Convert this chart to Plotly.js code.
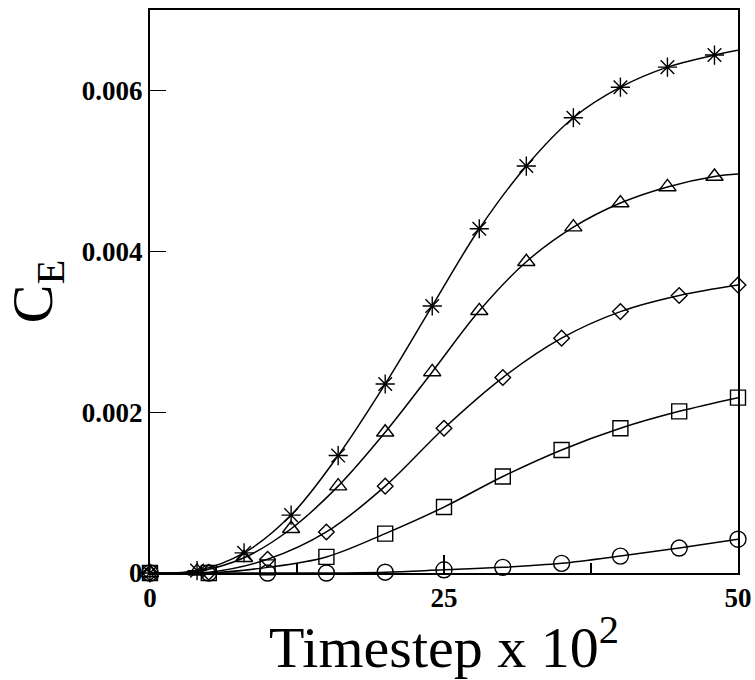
<!DOCTYPE html>
<html>
<head>
<meta charset="utf-8">
<script src="https://cdn.plot.ly/plotly-3.0.1.min.js"></script>
<style>html,body{margin:0;padding:0;background:#fff;}#chart{width:755px;height:680px;}</style>
</head>
<body>
<div id="chart"></div>
<script>
// Series sampled every 400 timesteps (x in units of 10^2)
const xStep4 = [0, 4, 8, 12, 16, 20, 24, 28, 32, 36, 40, 44, 48];
const yStar = [0, 0.00003, 0.00025, 0.00072, 0.00146, 0.00235, 0.00332, 0.00428, 0.00506, 0.00566, 0.00604, 0.00629, 0.00644];
const yTriangle = [0, 0.00002, 0.00019, 0.00055, 0.00108, 0.00175, 0.0025, 0.00326, 0.00387, 0.0043, 0.0046, 0.0048, 0.00493];
// curve end values at x = 50 for the two series above
const xEnd = 50;
const yStarEnd = 0.0065;
const yTriangleEnd = 0.00496;

// Series sampled every 500 timesteps
const xStep5 = [0, 5, 10, 15, 20, 25, 30, 35, 40, 45, 50];
const yDiamond = [0, 0.00001, 0.00017, 0.00051, 0.00108, 0.0018, 0.00243, 0.00292, 0.00325, 0.00345, 0.00358];
const ySquare = [0, 0, 0.00007, 0.0002, 0.00049, 0.00082, 0.0012, 0.00153, 0.0018, 0.00201, 0.00218];
const yCircle = [0, 0, 0, 0, 0.00001, 0.00004, 0.00007, 0.00012, 0.00021, 0.00031, 0.00042];

const xTickVals = [0, 25, 50];
const xMinorVals = [12.5, 37.5];
const yTickVals = [0, 0.002, 0.004, 0.006];
const yTickText = ['0', '0.002', '0.004', '0.006'];

const FONT = 'Liberation Serif, Times New Roman, serif';

function lineTrace(x, y) {
  return {x: x, y: y, type: 'scatter', mode: 'lines', line: {color: '#000', width: 1.5, shape: 'spline', smoothing: 1}, hoverinfo: 'skip', showlegend: false, cliponaxis: false};
}
function markerTrace(x, y, symbol, size) {
  return {x: x, y: y, type: 'scatter', mode: 'markers', marker: {symbol: symbol, size: size, color: '#000', line: {color: '#000', width: 1.4}}, showlegend: false, cliponaxis: false};
}

const data = [
  lineTrace(xStep4.concat([xEnd]), yStar.concat([yStarEnd])),
  lineTrace(xStep4.concat([xEnd]), yTriangle.concat([yTriangleEnd])),
  lineTrace(xStep5, yDiamond),
  lineTrace(xStep5, ySquare),
  lineTrace(xStep5, yCircle),
  markerTrace(xStep4, yStar, 'asterisk-open', 16),
  markerTrace(xStep4, yTriangle, 'triangle-up-open', 15),
  markerTrace(xStep5, yDiamond, 'diamond-open', 12),
  markerTrace(xStep5, ySquare, 'square-open', 15),
  markerTrace(xStep5, yCircle, 'circle-open', 16)
];

const layout = {
  width: 755, height: 680,
  margin: {l: 150, r: 17, t: 10, b: 107},
  paper_bgcolor: '#fff', plot_bgcolor: '#fff',
  font: {family: FONT, color: '#000'},
  xaxis: {
    range: [0, 50], tickvals: xTickVals, ticktext: xTickVals.map(String),
    ticks: 'inside', ticklen: 18, tickwidth: 1.2, tickcolor: '#000',
    minor: {tickvals: xMinorVals, ticks: 'inside', ticklen: 10, tickwidth: 1.2, tickcolor: '#000'},
    showline: true, linecolor: '#000', linewidth: 2, mirror: true,
    showgrid: false, zeroline: false, automargin: false,
    tickfont: {family: FONT, size: 27, weight: 'bold', color: '#000'},
    title: {text: 'Timestep x 10<sup>2</sup>', font: {family: FONT, size: 58, color: '#000'}, standoff: 4}
  },
  yaxis: {
    range: [0, 0.007], tickvals: yTickVals, ticktext: yTickText,
    ticks: 'inside', ticklen: 16, tickwidth: 1.2, tickcolor: '#000',
    showline: true, linecolor: '#000', linewidth: 2, mirror: true,
    showgrid: false, zeroline: false, automargin: false,
    tickfont: {family: FONT, size: 27, weight: 'bold', color: '#000'},
    title: {text: 'C<sub>E</sub>', font: {family: FONT, size: 58, color: '#000'}, standoff: 12}
  }
};

Plotly.newPlot('chart', data, layout, {staticPlot: true, displayModeBar: false});
</script>
</body>
</html>
